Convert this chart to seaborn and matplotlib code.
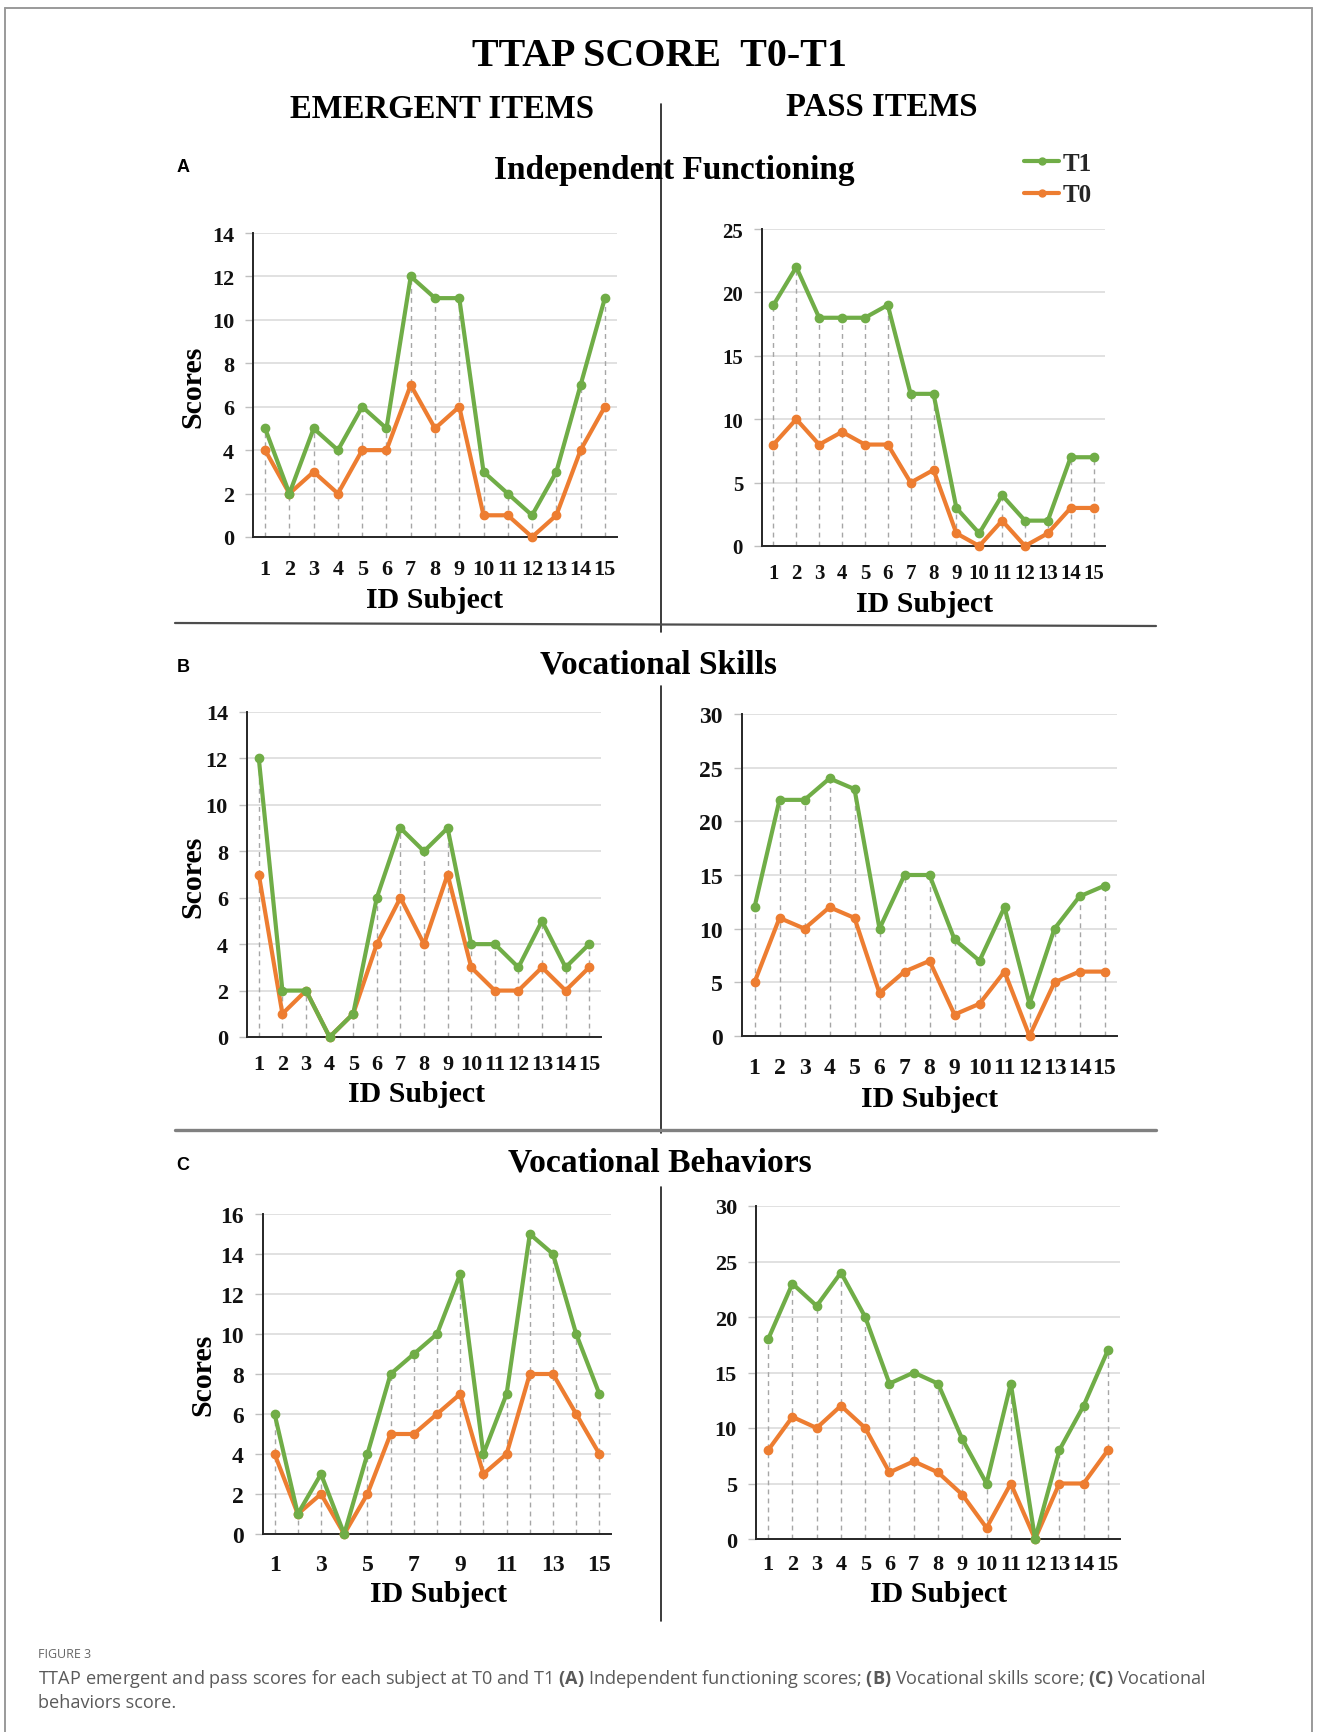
import numpy as np
import pandas as pd
import matplotlib
matplotlib.use("Agg")
import matplotlib.pyplot as plt
from matplotlib.lines import Line2D
from matplotlib.font_manager import FontProperties
import seaborn as sns

# ---- data -------------------------------------------------------------
subjects = list(range(1, 16))

indep_emergent_t1 = [5, 2, 5, 4, 6, 5, 12, 11, 11, 3, 2, 1, 3, 7, 11]
indep_emergent_t0 = [4, 2, 3, 2, 4, 4, 7, 5, 6, 1, 1, 0, 1, 4, 6]
indep_pass_t1 = [19, 22, 18, 18, 18, 19, 12, 12, 3, 1, 4, 2, 2, 7, 7]
indep_pass_t0 = [8, 10, 8, 9, 8, 8, 5, 6, 1, 0, 2, 0, 1, 3, 3]

skills_emergent_t1 = [12, 2, 2, 0, 1, 6, 9, 8, 9, 4, 4, 3, 5, 3, 4]
skills_emergent_t0 = [7, 1, 2, 0, 1, 4, 6, 4, 7, 3, 2, 2, 3, 2, 3]
skills_pass_t1 = [12, 22, 22, 24, 23, 10, 15, 15, 9, 7, 12, 3, 10, 13, 14]
skills_pass_t0 = [5, 11, 10, 12, 11, 4, 6, 7, 2, 3, 6, 0, 5, 6, 6]

behav_emergent_t1 = [6, 1, 3, 0, 4, 8, 9, 10, 13, 4, 7, 15, 14, 10, 7]
behav_emergent_t0 = [4, 1, 2, 0, 2, 5, 5, 6, 7, 3, 4, 8, 8, 6, 4]
behav_pass_t1 = [18, 23, 21, 24, 20, 14, 15, 14, 9, 5, 14, 0, 8, 12, 17]
behav_pass_t0 = [8, 11, 10, 12, 10, 6, 7, 6, 4, 1, 5, 0, 5, 5, 8]

series_labels = ["T1", "T0"]
series_colors = ["#70AD47", "#ED7D31"]

# ---- figure setup -------------------------------------------------------
sns.set_theme(style="white")
plt.rcParams["font.family"] = ["Liberation Serif", "DejaVu Serif"]
plt.rcParams["font.weight"] = "bold"
plt.rcParams["mathtext.fontset"] = "custom"
plt.rcParams["mathtext.rm"] = "Open Sans"
plt.rcParams["mathtext.bf"] = "Open Sans:bold"

W, H = 1318, 1733
DPI = 100
fig = plt.figure(figsize=(W / DPI, H / DPI), dpi=DPI, facecolor="white")

SERIF = ["Liberation Serif", "DejaVu Serif"]


def fx(x):
    return x / W


def fy(y):
    return 1 - y / H


def pt(px):
    return px * 72 / DPI


def add_axes_px(left, top, right, bottom):
    return fig.add_axes([fx(left), fy(bottom), (right - left) / W, (bottom - top) / H])


def ftext(x, y, s, size, weight="bold", family=SERIF, color="black", **kw):
    kw.setdefault("ha", "center")
    kw.setdefault("va", "center")
    return fig.text(fx(x), fy(y), s, fontsize=size, fontweight=weight,
                    family=family, color=color, **kw)


def draw_panel(box, t1, t0, ymax, ystep, tick_size, xpad_px, xticks=None):
    ax = add_axes_px(*box)
    df = pd.DataFrame({"subject": subjects * 2,
                       "score": list(t1) + list(t0),
                       "time": ["T1"] * 15 + ["T0"] * 15})
    # drop lines from the upper point down to the axis
    top_vals = np.maximum(np.array(t1), np.array(t0))
    ax.vlines(subjects, 0, top_vals, colors="#A6A6A6",
              linestyles=(0, (3.5, 3)), lw=1.0, zorder=1.5)
    for lab, col in zip(["T0", "T1"], ["#ED7D31", "#70AD47"]):
        sub = df[df["time"] == lab]
        sns.lineplot(data=sub, x="subject", y="score", ax=ax, color=col,
                     lw=3.0, marker="o", markersize=6, markeredgecolor=col,
                     markeredgewidth=1, estimator=None, sort=False,
                     legend=False, clip_on=False, zorder=3)
    ax.set_xlim(0.5, 15.5)
    ax.set_ylim(0, ymax)
    yt = np.arange(0, ymax + 0.1, ystep)
    xt = xticks if xticks is not None else subjects
    ax.set_yticks(yt)
    ax.set_xticks(xt)
    tick_font = dict(fontsize=tick_size, fontweight="bold", family=SERIF, color="#111111")
    ax.set_yticklabels([f"{v:g}" for v in yt], **tick_font)
    ax.set_xticklabels([str(v) for v in xt], **tick_font)
    ax.set_xlabel("")
    ax.set_ylabel("")
    ax.yaxis.grid(True, color="#D9D9D9", lw=1.1)
    ax.xaxis.grid(False)
    ax.set_axisbelow(True)
    for s in ["top", "right"]:
        ax.spines[s].set_visible(False)
    for s in ["left", "bottom"]:
        ax.spines[s].set_color("#262626")
        ax.spines[s].set_linewidth(1.4)
    ax.tick_params(axis="y", length=pt(8), width=1, color="#BFBFBF",
                   pad=pt(11), left=True)
    ax.tick_params(axis="x", length=0, pad=pt(xpad_px), bottom=True)
    ax.set_facecolor("none")
    return ax


# ---- panels -----------------------------------------------------------
draw_panel((253, 234, 617, 538), indep_emergent_t1, indep_emergent_t0, 14, 2, 16, 22)
draw_panel((762, 230, 1105, 547), indep_pass_t1, indep_pass_t0, 25, 5, 15, 17)
draw_panel((247, 713, 601, 1038), skills_emergent_t1, skills_emergent_t0, 14, 2, 16, 17)
draw_panel((742, 715, 1117, 1037), skills_pass_t1, skills_pass_t0, 30, 5, 17, 21)
draw_panel((263, 1215, 611, 1535), behav_emergent_t1, behav_emergent_t0, 16, 2, 17, 20,
           xticks=list(range(1, 16, 2)))
draw_panel((756, 1207, 1120, 1540), behav_pass_t1, behav_pass_t0, 30, 5, 16, 15)

# ---- axis titles ---------------------------------------------------------
for x, y in [(435, 600), (925, 605), (417, 1095), (930, 1100), (439, 1595), (939, 1595)]:
    ftext(x, y, "ID Subject", 21.5)
for x, y in [(193, 387), (193, 877), (203, 1375)]:
    ftext(x, y, "Scores", 21.5, rotation=90)

# ---- headings --------------------------------------------------------------
ftext(660, 57, "TTAP SCORE  T0-T1", 28.8)
ftext(442, 110, "EMERGENT ITEMS", 23.6)
ftext(882, 108, "PASS ITEMS", 23.6)
ftext(674, 171, "Independent Functioning", 24)
ftext(658, 665, "Vocational Skills", 24)
ftext(660, 1163, "Vocational Behaviors", 24.2)

SANS = ["Liberation Sans", "DejaVu Sans"]
ftext(183, 168, "A", 13, family=SANS)
ftext(183, 668, "B", 13, family=SANS)
ftext(183, 1166, "C", 13, family=SANS)

# ---- legend ----------------------------------------------------------------
handles = [Line2D([], [], color=c, lw=3, marker="o", markersize=5) for c in series_colors]
fig.legend(handles, series_labels, loc="center left",
           bbox_to_anchor=(fx(1024), fy(180)), frameon=False,
           prop=FontProperties(family=SERIF, weight="bold", size=18),
           handlelength=1.4, handletextpad=0.15, labelspacing=0.35,
           borderpad=0, borderaxespad=0)

# ---- dividers --------------------------------------------------------------
def fline(x0, y0, x1, y1, color, lw):
    fig.add_artist(Line2D([fx(x0), fx(x1)], [fy(y0), fy(y1)], color=color,
                          lw=lw, transform=fig.transFigure))


for y0, y1 in [(105, 633), (687, 1134), (1188, 1622)]:
    fline(661, y0, 661, y1, "#1A1A1A", 1.2)
fline(175, 624, 1156, 627, "#4D4D4D", 1.6)
fline(175, 1131, 1156, 1131, "#808080", 2.4)

# outer frame
fline(5, 9, 1312, 9, "#9A9A9A", 1.4)
fline(5, 9, 5, H, "#9A9A9A", 1.4)
fline(1312, 9, 1312, H, "#9A9A9A", 1.4)

# ---- caption ---------------------------------------------------------------
CAP = ["Open Sans", "DejaVu Sans"]
fig.text(fx(38), fy(1655), "FIGURE 3", fontsize=9, family=CAP, color="#666666",
         fontweight="normal", ha="left", va="center")
fig.text(fx(38), fy(1679),
         r"TTAP emergent and pass scores for each subject at T0 and T1 $\mathbf{(A)}$ "
         r"Independent functioning scores; $\mathbf{(B)}$ Vocational skills score; "
         r"$\mathbf{(C)}$ Vocational",
         fontsize=13.1, family=CAP, color="#5A5A5A", fontweight="normal",
         ha="left", va="center")
fig.text(fx(38), fy(1703), "behaviors score.", fontsize=13.1, family=CAP,
         color="#5A5A5A", fontweight="normal", ha="left", va="center")

fig.savefig("out.png", dpi=DPI, facecolor="white")
